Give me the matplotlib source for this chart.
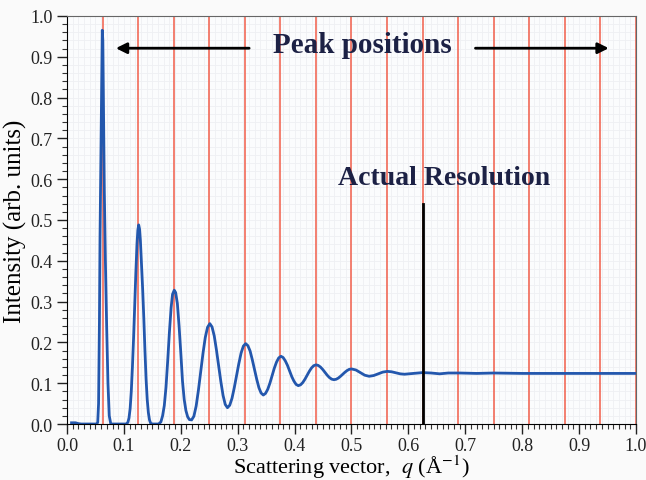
import matplotlib
matplotlib.use("Agg")
import matplotlib.pyplot as plt
from matplotlib.ticker import MultipleLocator, FormatStrFormatter

# scattering curve
q = [0.008, 0.015, 0.020, 0.025, 0.035, 0.045, 0.052, 0.054,
     0.0555, 0.057, 0.058, 0.0595, 0.061, 0.062, 0.063, 0.064, 0.0656, 0.0675, 0.0697, 0.072, 0.0743, 0.077,
     0.085, 0.095, 0.104, 0.107, 0.109, 0.111, 0.113, 0.115, 0.117, 0.119, 0.121, 0.123, 0.1245, 0.126,
     0.1275, 0.129, 0.131, 0.133, 0.135, 0.137, 0.139, 0.141, 0.143, 0.145, 0.147, 0.150,
     0.155, 0.161, 0.165, 0.168, 0.171, 0.174, 0.177, 0.180, 0.183, 0.1855, 0.1885,
     0.191, 0.194, 0.197, 0.200, 0.203, 0.206, 0.209, 0.212, 0.215,
     0.219, 0.223, 0.227, 0.231, 0.235, 0.239, 0.243, 0.247,
     0.251, 0.2549, 0.2588, 0.2626, 0.2665, 0.2704, 0.2743, 0.2781,
     0.282, 0.286, 0.290, 0.294, 0.298, 0.302, 0.306, 0.310,
     0.314, 0.3179, 0.3218, 0.3256, 0.3295, 0.3334, 0.3373, 0.3411,
     0.345, 0.3489, 0.3528, 0.3566, 0.3605, 0.3644, 0.3683, 0.3721,
     0.376, 0.3798, 0.3836, 0.3874, 0.3913, 0.3951, 0.3989, 0.4027,
     0.4065, 0.4104, 0.4143, 0.4182, 0.4221, 0.4259, 0.4298, 0.4337,
     0.4376, 0.4415, 0.4454, 0.4494, 0.4533, 0.4572, 0.4612, 0.4651,
     0.469, 0.4729, 0.4768, 0.4806, 0.4845, 0.4884, 0.4923, 0.4961,
     0.500, 0.5078, 0.5155, 0.5233, 0.531, 0.539, 0.547, 0.555,
     0.563, 0.5705, 0.578, 0.5855, 0.593, 0.609, 0.625,
     0.64, 0.655, 0.67, 0.69, 0.72, 0.75, 0.80, 0.90, 1.0]
intensity = [0.003, 0.003, 0.001, 0.0, 0.0, 0.0, 0.0, 0.004,
             0.05, 0.25, 0.45, 0.65, 0.85, 0.965, 0.94, 0.80, 0.57, 0.40, 0.24, 0.10, 0.02, 0.0,
             0.0, 0.0, 0.0, 0.004, 0.015, 0.038, 0.08, 0.14, 0.21, 0.29, 0.37, 0.44, 0.475, 0.488,
             0.478, 0.45, 0.39, 0.33, 0.26, 0.18, 0.11, 0.06, 0.028, 0.01, 0.002, 0.0,
             0.0, 0.0, 0.005, 0.02, 0.045, 0.09, 0.155, 0.225, 0.285, 0.318, 0.328,
             0.322, 0.295, 0.240, 0.175, 0.105, 0.060, 0.033, 0.018, 0.011,
             0.010, 0.019, 0.044, 0.083, 0.128, 0.173, 0.212, 0.237,
             0.246, 0.238, 0.216, 0.182, 0.143, 0.104, 0.070, 0.048,
             0.040, 0.046, 0.063, 0.089, 0.1185, 0.148, 0.174, 0.191,
             0.197, 0.192, 0.179, 0.158, 0.134, 0.110, 0.089, 0.076,
             0.071, 0.075, 0.085, 0.100, 0.1185, 0.137, 0.152, 0.162,
             0.166, 0.163, 0.155, 0.144, 0.130, 0.116, 0.105, 0.097,
             0.094, 0.096, 0.1015, 0.1098, 0.1195, 0.1292, 0.1376, 0.143,
             0.145, 0.1436, 0.1397, 0.1338, 0.1268, 0.1198, 0.1139, 0.1100,
             0.1086, 0.1096, 0.1125, 0.1168, 0.1218, 0.1268, 0.1311, 0.1340,
             0.135, 0.1324, 0.126, 0.1196, 0.117, 0.1188, 0.123, 0.1272,
             0.129, 0.128, 0.1255, 0.123, 0.122, 0.124, 0.126,
             0.125, 0.123, 0.125, 0.125, 0.124, 0.125, 0.124, 0.124, 0.124]

peak_pos = [0.0625 * n for n in range(1, 17)]
resolution_q = 0.625
resolution_top = 0.54

plt.rcParams['font.family'] = ['Liberation Serif', 'DejaVu Serif']
plt.rcParams['mathtext.fontset'] = 'stix'

fig = plt.figure(figsize=(6.46, 4.81), dpi=100, facecolor='#fafafa')
ax = fig.add_axes([0.1037, 0.1164, 0.8808, 0.8483])
ax.set_facecolor('#fbfcfd')
ax.set_axisbelow(True)

# faint background grid
ax.xaxis.set_minor_locator(MultipleLocator(0.01))
ax.yaxis.set_minor_locator(MultipleLocator(0.02))
ax.grid(which='both', color='#eef0f3', lw=0.6)

for p in peak_pos:
    ax.axvline(p, color='#f26a58', lw=1.2, zorder=1)
ax.plot([resolution_q, resolution_q], [0, resolution_top], color='black', lw=2, zorder=3)

ax.plot(q, intensity, color='#2357ad', lw=2.0, zorder=2)

ax.set_xlim(0, 1.0)
ax.set_ylim(0, 1.0)
ax.xaxis.set_major_locator(MultipleLocator(0.1))
ax.yaxis.set_major_locator(MultipleLocator(0.1))
ax.xaxis.set_major_formatter(FormatStrFormatter('%.1f'))
ax.yaxis.set_major_formatter(FormatStrFormatter('%.1f'))
ax.tick_params(which='major', direction='out', length=7, width=1, labelsize=13, colors='#222222')
ax.tick_params(axis='x', which='major', pad=2)
ax.tick_params(which='minor', direction='out', length=3.5, width=0.8, colors='#333333')
for s in ['top', 'right']:
    ax.spines[s].set_color('#666666')

ax.set_xlabel('Scattering vector,  $q$ (Å$^{-1}$)', fontsize=16, labelpad=-1)
ax.set_ylabel('Intensity (arb. units)', fontsize=18, labelpad=2)

navy = '#1c2145'
ax.text(0.519, 0.931, 'Peak positions', fontsize=21, fontweight='bold', color=navy,
        ha='center', va='center', zorder=5)
ax.text(0.662, 0.605, 'Actual Resolution', fontsize=20, fontweight='bold', color=navy,
        ha='center', va='center', zorder=5)
ax.annotate('', xy=(0.081, 0.921), xytext=(0.325, 0.921),
            arrowprops=dict(arrowstyle='-|>', color='black', lw=2, mutation_scale=16), zorder=5)
ax.annotate('', xy=(0.957, 0.921), xytext=(0.713, 0.921),
            arrowprops=dict(arrowstyle='-|>', color='black', lw=2, mutation_scale=16), zorder=5)

fig.savefig('out.png', dpi=100, facecolor=fig.get_facecolor())
